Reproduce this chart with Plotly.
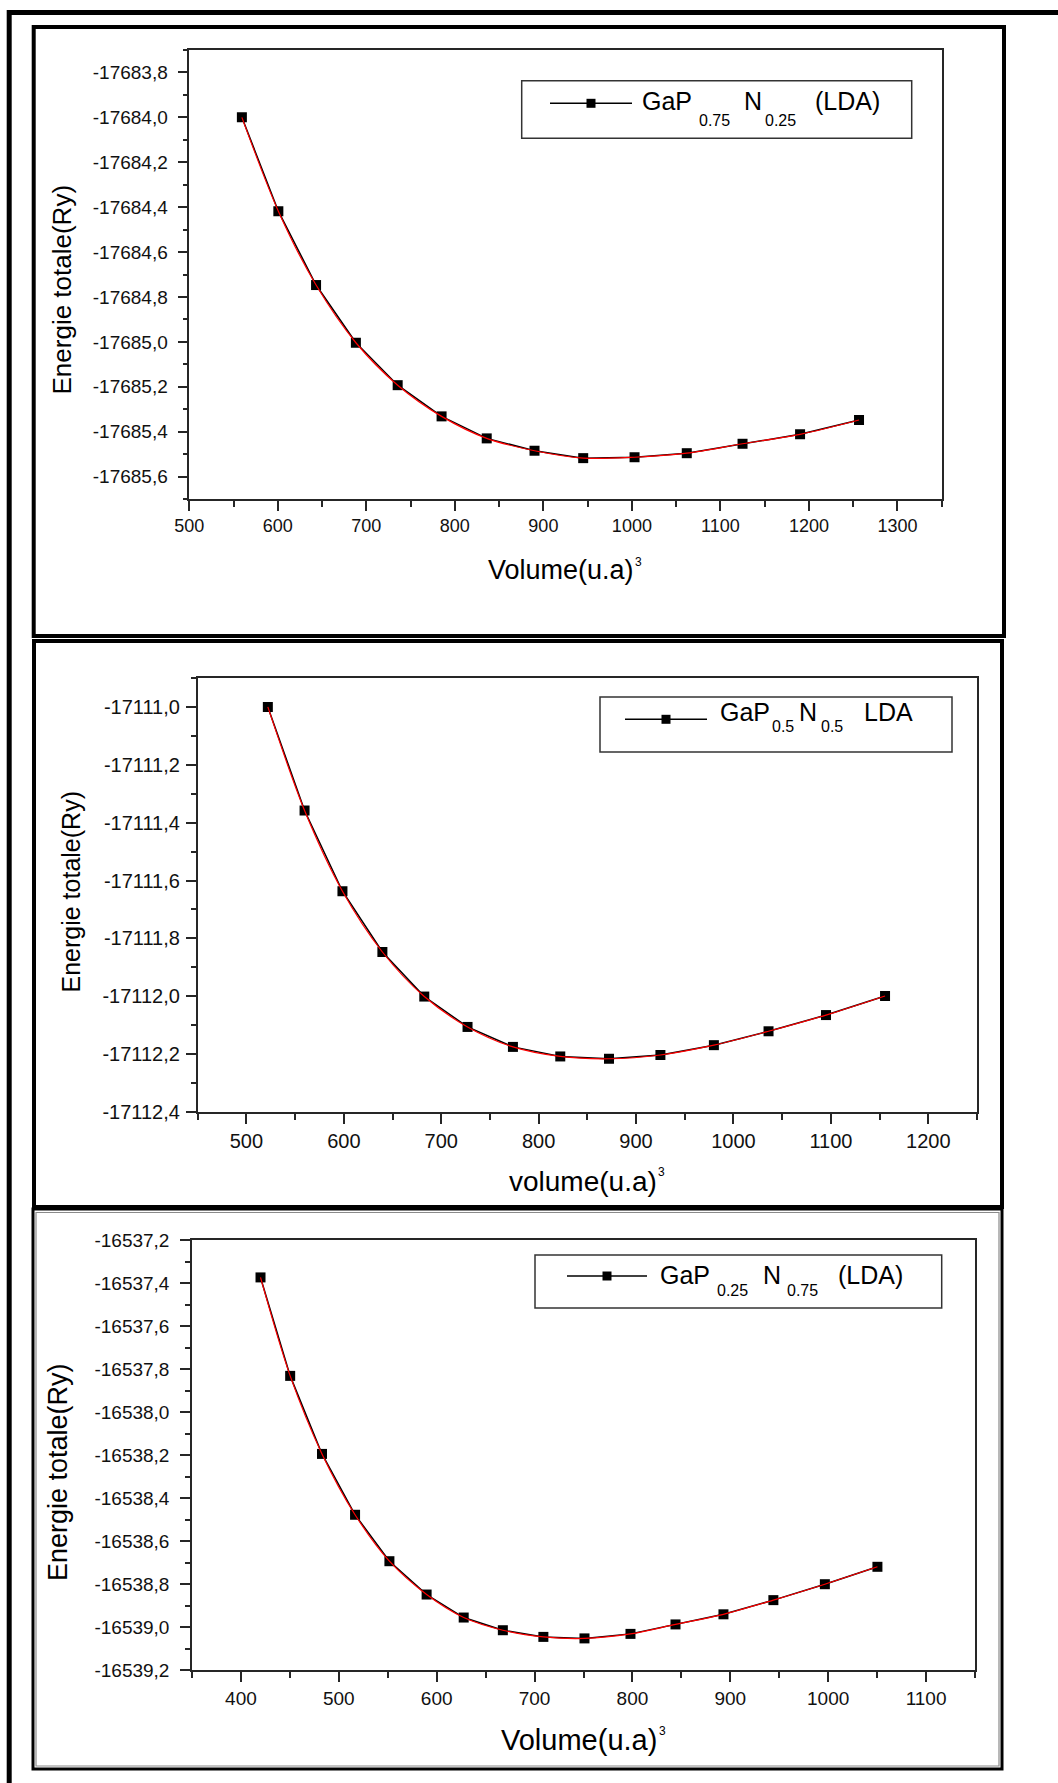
import plotly.graph_objects as go

W, H = 1058, 1783

# ---------------------------------------------------------------- data
# GaP0.75N0.25 (LDA): volume (u.a)^3 vs total energy (Ry)
vol_a = [559.4, 600.6, 643.2, 688.2, 735.4, 785.0, 836.0, 890.0, 945.0,
         1003.0, 1062.0, 1125.0, 1190.0, 1256.6]
e_a = [-17684.000, -17684.418, -17684.747, -17685.004, -17685.193, -17685.332,
       -17685.430, -17685.485, -17685.518, -17685.514, -17685.496, -17685.454,
       -17685.412, -17685.348]

# GaP0.5N0.5 (LDA)
vol_b = [522.0, 559.7, 598.6, 639.6, 682.6, 727.0, 773.6, 822.2, 872.2,
         925.0, 979.9, 1036.0, 1095.0, 1155.6]
e_b = [-17111.000, -17111.358, -17111.637, -17111.847, -17112.001, -17112.106,
       -17112.175, -17112.208, -17112.216, -17112.203, -17112.169, -17112.121,
       -17112.065, -17111.999]

# GaP0.25N0.75 (LDA)
vol_c = [420.0, 450.3, 482.8, 516.6, 551.7, 589.7, 627.6, 667.6, 709.0,
         751.0, 798.0, 844.0, 893.0, 944.0, 996.6, 1050.3]
e_c = [-16537.374, -16537.832, -16538.195, -16538.478, -16538.694, -16538.849,
       -16538.956, -16539.015, -16539.046, -16539.053, -16539.032, -16538.988,
       -16538.941, -16538.875, -16538.801, -16538.720]

x_ranges = [[500, 1350], [450, 1250], [350, 1150]]
y_ranges = [[-17685.7, -17683.7], [-17112.4, -17110.9], [-16539.2, -16537.2]]

# y tick values and their labels (decimal comma)
y_ticks_a = [-17683.8, -17684.0, -17684.2, -17684.4, -17684.6, -17684.8,
             -17685.0, -17685.2, -17685.4, -17685.6]
y_labels_a = ["-17683,8", "-17684,0", "-17684,2", "-17684,4", "-17684,6",
              "-17684,8", "-17685,0", "-17685,2", "-17685,4", "-17685,6"]
y_ticks_b = [-17111.0, -17111.2, -17111.4, -17111.6, -17111.8, -17112.0,
             -17112.2, -17112.4]
y_labels_b = ["-17111,0", "-17111,2", "-17111,4", "-17111,6", "-17111,8",
              "-17112,0", "-17112,2", "-17112,4"]
y_ticks_c = [-16537.2, -16537.4, -16537.6, -16537.8, -16538.0, -16538.2,
             -16538.4, -16538.6, -16538.8, -16539.0, -16539.2]
y_labels_c = ["-16537,2", "-16537,4", "-16537,6", "-16537,8", "-16538,0",
              "-16538,2", "-16538,4", "-16538,6", "-16538,8", "-16539,0",
              "-16539,2"]

# legend label pieces: (text, is_subscript)
legend_parts = [
    [("GaP", False), ("0.75", True), ("N", False), ("0.25", True), ("(LDA)", False)],
    [("GaP", False), ("0.5", True), ("N", False), ("0.5", True), ("LDA", False)],
    [("GaP", False), ("0.25", True), ("N", False), ("0.75", True), ("(LDA)", False)],
]
y_title = "Energie totale(Ry)"
x_titles = ["Volume(u.a)", "volume(u.a)", "Volume(u.a)"]
x_title_exp = "3"

# ---------------------------------------------------------------- layout geometry (pixels)
plot_boxes = [  # x0, x1, ytop, ybottom
    (189.3, 941.7, 50.0, 499.0),
    (197.7, 977.0, 678.0, 1112.0),
    (192.0, 975.0, 1240.0, 1670.0),
]
# per panel: x tick font, y tick font, y label standoff
tick_styles = [(18, 19, 6), (20, 20, 2), (19, 19, 7)]

legend_boxes = [  # x0, x1, ytop, ybottom, sample x0, sample x1, sample y
    (521.7, 911.7, 80.7, 138.3, 550, 632, 103.3),
    (600.0, 952.0, 697.0, 752.0, 625, 707, 719.3),
    (535.0, 941.7, 1255.0, 1308.0, 567, 647, 1276.0),
]
# anchor x of each label piece (centre for normal text, left edge for subscripts)
legend_piece_x = [
    [667.3, 696.7, 752.5, 763.3, 847.5],
    [744.5, 770.0, 807.5, 819.0, 888.0],
    [685.0, 715.0, 771.7, 785.0, 870.8],
]
legend_piece_y = [(101.0, 120.0), (711.7, 726.5), (1275.0, 1290.0)]

y_title_pos = [(61.5, 290, 26), (70.5, 892, 25), (58.0, 1472, 27)]
x_title_pos = [(560.7, 570.4, 27), (582.7, 1181.0, 28), (579.3, 1740.0, 29)]
x_exp_pos = [(638.5, 562.0), (661.5, 1171.6), (662.5, 1730.5)]

FONT = "Liberation Sans, Arial, Helvetica, sans-serif"
AX = "#262626"


def px(x):
    return x / W


def py(y):
    return 1 - y / H


fig = go.Figure()

datasets = [(vol_a, e_a), (vol_b, e_b), (vol_c, e_c)]
for i, (v, e) in enumerate(datasets):
    xa = "x" if i == 0 else f"x{i + 1}"
    ya = "y" if i == 0 else f"y{i + 1}"
    # computed points joined by straight segments
    fig.add_trace(go.Scatter(
        x=v, y=e, mode="lines+markers", xaxis=xa, yaxis=ya,
        line=dict(color="black", width=1.5),
        marker=dict(symbol="square", size=10, color="black"),
        showlegend=False, hoverinfo="x+y"))
    # smooth equation-of-state curve
    fig.add_trace(go.Scatter(
        x=v, y=e, mode="lines", xaxis=xa, yaxis=ya,
        line=dict(color="#ff0000", width=1.2, shape="spline", smoothing=0.9),
        showlegend=False, hoverinfo="skip"))

y_tick_sets = [(y_ticks_a, y_labels_a), (y_ticks_b, y_labels_b), (y_ticks_c, y_labels_c)]
layout_axes = {}
for i in range(3):
    x0, x1, yt, yb = plot_boxes[i]
    fx, fy, stand = tick_styles[i]
    sx = "" if i == 0 else str(i + 1)
    common = dict(
        showline=True, linecolor=AX, linewidth=1.5, mirror=True,
        ticks="outside", ticklen=10, tickwidth=1.5, tickcolor=AX,
        showgrid=False, zeroline=False, automargin=False,
    )
    layout_axes["xaxis" + sx] = dict(
        common, domain=[px(x0), px(x1)], range=x_ranges[i],
        anchor="y" + sx, tick0=0, dtick=100,
        tickfont=dict(family=FONT, size=fx, color="#111111"),
        minor=dict(ticks="outside", ticklen=6, tickwidth=1.5, tickcolor=AX, dtick=50, tick0=0),
    )
    tv, tt = y_tick_sets[i]
    layout_axes["yaxis" + sx] = dict(
        common, domain=[py(yb), py(yt)], range=y_ranges[i],
        anchor="x" + sx, tickmode="array", tickvals=tv, ticktext=tt,
        ticklabelstandoff=stand,
        tickfont=dict(family=FONT, size=fy, color="#111111"),
        minor=dict(ticks="outside", ticklen=5, tickwidth=1.5, tickcolor=AX,
                   dtick=0.1, tick0=tv[0]),
    )

shapes = []
# outer frame (top and left edges)
shapes.append(dict(type="line", xref="paper", yref="paper", x0=px(7), x1=px(1058),
                   y0=py(12.5), y1=py(12.5), line=dict(color="black", width=5)))
shapes.append(dict(type="line", xref="paper", yref="paper", x0=px(9.2), x1=px(9.2),
                   y0=py(10), y1=py(1783), line=dict(color="black", width=5)))
# panel frames
panel_frames = [(33.7, 1004.0, 27.0, 636.0, 4), (34.0, 1002.0, 641.0, 1207.0, 4),
                (33.0, 1002.0, 1209.0, 1769.0, 3)]
for (a, b, t, u, w) in panel_frames:
    shapes.append(dict(type="rect", xref="paper", yref="paper", x0=px(a), x1=px(b),
                       y0=py(u), y1=py(t), line=dict(color="black", width=w)))
shapes.append(dict(type="rect", xref="paper", yref="paper", x0=px(36), x1=px(999),
                   y0=py(1766), y1=py(1212.5), line=dict(color="#8a8a8a", width=1.2)))

annotations = []
for i in range(3):
    lx0, lx1, lyt, lyb, sl0, sl1, sly = legend_boxes[i]
    # legend frame, line sample and square symbol
    shapes.append(dict(type="rect", xref="paper", yref="paper", x0=px(lx0), x1=px(lx1),
                       y0=py(lyb), y1=py(lyt), line=dict(color="#333333", width=1.5),
                       fillcolor="rgba(0,0,0,0)"))
    shapes.append(dict(type="line", xref="paper", yref="paper", x0=px(sl0), x1=px(sl1),
                       y0=py(sly), y1=py(sly), line=dict(color="black", width=1.5)))
    mx = (sl0 + sl1) / 2
    shapes.append(dict(type="rect", xref="paper", yref="paper", x0=px(mx - 4.5), x1=px(mx + 4.5),
                       y0=py(sly + 4.5), y1=py(sly - 4.5), line=dict(width=0), fillcolor="black"))
    # legend label, piece by piece (subscripts smaller, lowered, set against the letter before)
    y_main, y_sub = legend_piece_y[i]
    for (part, is_sub), ax_ in zip(legend_parts[i], legend_piece_x[i]):
        annotations.append(dict(xref="paper", yref="paper", x=px(ax_),
                                y=py(y_sub if is_sub else y_main),
                                xanchor="left" if is_sub else "center",
                                yanchor="middle", showarrow=False,
                                text=part,
                                font=dict(family=FONT, size=16 if is_sub else 25, color="black")))

    yx, yy, ys = y_title_pos[i]
    annotations.append(dict(xref="paper", yref="paper", x=px(yx), y=py(yy),
                            xanchor="center", yanchor="middle", showarrow=False,
                            textangle=-90, text=y_title,
                            font=dict(family=FONT, size=ys, color="black")))
    xx, xy, xs = x_title_pos[i]
    annotations.append(dict(xref="paper", yref="paper", x=px(xx), y=py(xy),
                            xanchor="center", yanchor="middle", showarrow=False,
                            text=x_titles[i],
                            font=dict(family=FONT, size=xs, color="black")))
    ex, ey = x_exp_pos[i]
    annotations.append(dict(xref="paper", yref="paper", x=px(ex), y=py(ey),
                            xanchor="center", yanchor="middle", showarrow=False,
                            text=x_title_exp,
                            font=dict(family=FONT, size=12, color="black")))

fig.update_layout(
    width=W, height=H,
    autosize=False,
    margin=dict(l=0, r=0, t=0, b=0, pad=0, autoexpand=False),
    paper_bgcolor="white", plot_bgcolor="white",
    separators=",.",
    showlegend=False,
    shapes=shapes,
    annotations=annotations,
    **layout_axes,
)

fig.write_html("out.html")
